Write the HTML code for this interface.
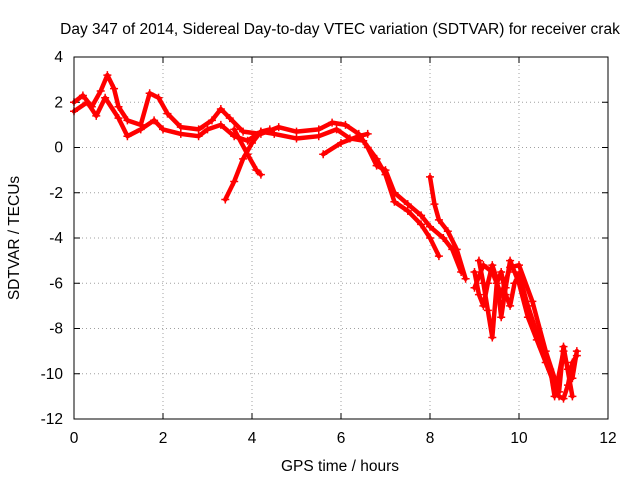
<!DOCTYPE html>
<html><head><meta charset="utf-8"><style>
body{margin:0;background:#fff}
svg{display:block;font-family:"Liberation Sans",sans-serif;font-size:15.5px}
</style></head><body>
<svg id="chart" width="640" height="480">
<rect x="0" y="0" width="640" height="480" fill="#fff"/>
<text x="340" y="34" text-anchor="middle">Day 347 of 2014, Sidereal Day-to-day VTEC variation (SDTVAR) for receiver crak</text>
<text x="340" y="471" text-anchor="middle">GPS time / hours</text>
<text transform="translate(19,238) rotate(-90)" text-anchor="middle">SDTVAR / TECUs</text>
<g id="grid"></g><g id="ticks"></g><g id="series"></g>
<rect x="74" y="57" width="534" height="362" fill="none" stroke="#000" stroke-width="1"/>
</svg>
<script>
const xTicks=[0,2,4,6,8,10,12];
const yTicks=[4,2,0,-2,-4,-6,-8,-10,-12];
const trackA=[[0,2.0],[0.2,2.3],[0.4,1.8],[0.6,2.5],[0.75,3.2],[0.9,2.6],[1.0,1.8],[1.2,1.2],[1.5,1.0],[1.7,2.4],[1.9,2.2],[2.1,1.5],[2.4,0.9],[2.8,0.8],[3.1,1.2],[3.3,1.7],[3.5,1.3],[3.8,0.7],[4.2,0.6],[4.6,0.9],[5.0,0.7],[5.5,0.8],[5.8,1.1],[6.1,1.0],[6.4,0.6],[6.6,0.0],[6.8,-0.8],[7.0,-1.0],[7.2,-2.0],[7.5,-2.5],[7.8,-3.0],[8.0,-3.5],[8.3,-4.0],[8.5,-4.5],[8.7,-5.5]];
const trackB=[[0,1.6],[0.3,2.0],[0.5,1.4],[0.7,2.2],[1.0,1.3],[1.2,0.5],[1.5,0.8],[1.8,1.2],[2.0,0.8],[2.4,0.6],[2.8,0.5],[3.0,0.8],[3.3,1.0],[3.6,0.5],[3.9,0.3],[4.2,0.7],[4.5,0.6],[5.0,0.4],[5.5,0.5],[5.9,0.8],[6.2,0.4],[6.5,0.3],[6.8,-0.5],[7.0,-1.2],[7.2,-2.4],[7.5,-2.8],[7.8,-3.4],[8.0,-4.0],[8.2,-4.8]];
const trackC=[[3.4,-2.3],[3.6,-1.5],[3.8,-0.5],[4.0,0.2],[4.2,0.7],[4.4,0.8]];
const trackC2=[[3.6,0.8],[3.9,-0.3],[4.1,-1.0],[4.2,-1.2]];
const trackD=[[5.6,-0.3],[6.0,0.2],[6.4,0.5],[6.6,0.6]];
const trackE=[[8.0,-1.3],[8.1,-2.5],[8.2,-3.2],[8.4,-3.7],[8.6,-4.5],[8.8,-5.8]];
const trackF=[[9.0,-5.5],[9.1,-6.5],[9.2,-7.0],[9.3,-6.0],[9.4,-5.2],[9.5,-5.8],[9.6,-7.5],[9.7,-6.2],[9.8,-5.0],[9.9,-5.5],[10.0,-6.0],[10.2,-7.5],[10.4,-8.5],[10.6,-9.5],[10.8,-10.5],[10.9,-11.0],[11.0,-11.1],[11.1,-10.5],[11.2,-9.5],[11.3,-9.2]];
const trackG=[[9.1,-5.0],[9.2,-6.0],[9.3,-7.2],[9.4,-8.4],[9.5,-6.0],[9.6,-5.5],[9.7,-6.5],[9.8,-7.0],[9.9,-6.0],[10.0,-5.6],[10.2,-7.0],[10.5,-8.8],[10.7,-9.8],[10.8,-11.0],[11.0,-9.0],[11.1,-9.8],[11.2,-10.2],[11.3,-9.0]];
const trackH=[[9.0,-6.2],[9.2,-5.2],[9.4,-5.5],[9.6,-6.5],[9.8,-5.3],[10.0,-5.2],[10.3,-6.8],[10.6,-9.0],[10.9,-10.8],[11.0,-8.8],[11.2,-11.0]];
const tracks=[trackA,trackB,trackC,trackC2,trackD,trackE,trackF,trackG,trackH];
const NS="http://www.w3.org/2000/svg";
const X=t=>74+t*534/12, Y=v=>57+(4-v)*362/16;
function mk(tag,attrs,parent){const e=document.createElementNS(NS,tag);for(const k in attrs)e.setAttribute(k,attrs[k]);parent.appendChild(e);return e;}
const grid=document.getElementById('grid'),ticks=document.getElementById('ticks'),ser=document.getElementById('series');
xTicks.forEach(t=>{
  if(t>0&&t<12){const g=mk('line',{x1:X(t),x2:X(t),y1:57,y2:419,stroke:'#a0a0a0','stroke-dasharray':'1,3'},grid);
  
  }
  const l=mk('text',{x:X(t),y:443,'text-anchor':'middle'},ticks);l.textContent=t;
  
  
  mk('line',{x1:X(t),x2:X(t),y1:419,y2:413,stroke:'#000'},ticks);
  mk('line',{x1:X(t),x2:X(t),y1:57,y2:63,stroke:'#000'},ticks);
});
yTicks.forEach(v=>{
  if(v<4&&v>-12){const g=mk('line',{x1:74,x2:608,y1:Y(v),y2:Y(v),stroke:'#a0a0a0','stroke-dasharray':'1,3'},grid);
  
  }
  const l=mk('text',{x:63,y:Y(v)+5,'text-anchor':'end'},ticks);l.textContent=v;
  
  
  mk('line',{x1:74,x2:80,y1:Y(v),y2:Y(v),stroke:'#000'},ticks);
  mk('line',{x1:608,x2:602,y1:Y(v),y2:Y(v),stroke:'#000'},ticks);
});
tracks.forEach(tr=>{
  const p=mk('polyline',{points:tr.map(d=>X(d[0])+','+Y(d[1])).join(' '),fill:'none',stroke:'#f00','stroke-width':4.5,'stroke-linejoin':'round','stroke-linecap':'round'},ser);
  
  
  tr.forEach(d=>{
    const x=X(d[0]),y=Y(d[1]);
    const m=mk('path',{d:`M${x-4},${y}H${x+4}M${x},${y-4}V${y+4}`,stroke:'#f00','stroke-width':1.5},ser);
    
    
  });
});
</script>
</body></html>
